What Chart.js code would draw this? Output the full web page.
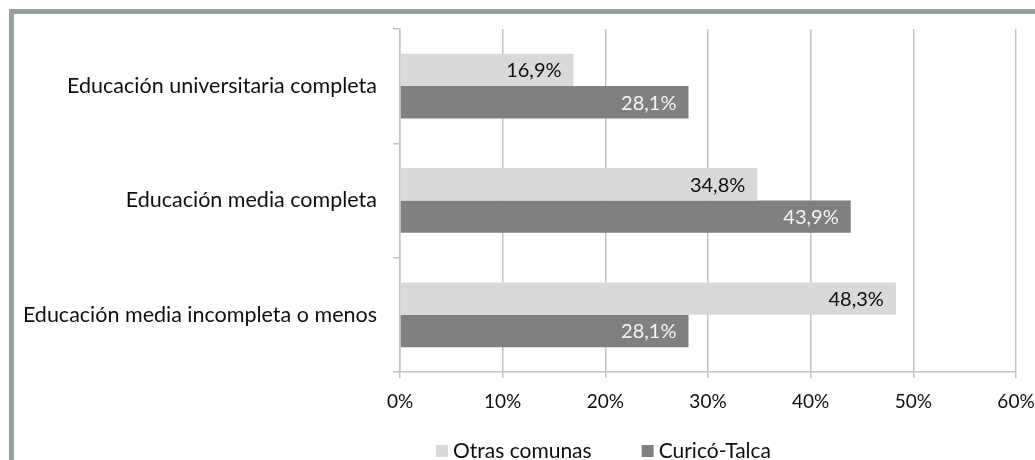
<!DOCTYPE html>
<html>
<head>
<meta charset="utf-8">
<script src="https://cdn.jsdelivr.net/npm/chart.js@4.4.1/dist/chart.umd.min.js"></script>
<style>
  html, body { margin: 0; padding: 0; background: #ffffff; }
  #wrap { position: relative; width: 1035px; height: 460px; overflow: hidden; }
  #frame { position: absolute; left: 9px; top: 9px; right: -10px; bottom: -10px;
           border-top: 5px solid #979f9e; border-left: 5px solid #979f9e; }
  canvas { position: absolute; left: 0; top: 0; }
</style>
</head>
<body>
<div id="wrap">
  <canvas id="c" width="1035" height="460"></canvas>
  <div id="frame"></div>
</div>
<script>
const categories = [
  "Educación universitaria completa",
  "Educación media completa",
  "Educación media incompleta o menos"
];
const seriesNames = ["Otras comunas", "Curicó-Talca"];
const otrasComunas = [16.9, 34.8, 48.3];
const curicoTalca = [28.1, 43.9, 28.1];
const xTicks = [0, 10, 20, 30, 40, 50, 60];

const FONT = "Lato, 'Open Sans', sans-serif";
const lightColor = "#d9d9d9";
const darkColor = "#808080";
const gridColor = "#c3c3c3";
const textColor = "#0f0f0f";

const fmt = v => v.toFixed(1).replace(".", ",") + "%";

const valueLabels = {
  id: "valueLabels",
  afterDatasetsDraw(chart) {
    const ctx = chart.ctx;
    ctx.save();
    ctx.font = "20px " + FONT;
    ctx.textAlign = "right";
    ctx.textBaseline = "middle";
    chart.data.datasets.forEach((ds, di) => {
      const meta = chart.getDatasetMeta(di);
      meta.data.forEach((bar, i) => {
        ctx.fillStyle = di === 0 ? textColor : "#f4f4f4";
        ctx.fillText(fmt(ds.data[i]), bar.x - 12, bar.y + 1);
      });
    });
    ctx.restore();
  }
};

const customLegend = {
  id: "customLegend",
  afterDraw(chart) {
    const ctx = chart.ctx;
    ctx.save();
    ctx.font = "21px " + FONT;
    ctx.textBaseline = "middle";
    ctx.textAlign = "left";
    let x = 436;
    const y = 451;
    chart.data.datasets.forEach((ds, di) => {
      ctx.fillStyle = ds.backgroundColor;
      ctx.fillRect(x, y - 6, 12, 12);
      ctx.fillStyle = textColor;
      ctx.fillText(ds.label, x + 17, y);
      x += 17 + ctx.measureText(ds.label).width + 50;
    });
    ctx.restore();
  }
};

new Chart(document.getElementById("c"), {
  type: "bar",
  data: {
    labels: categories,
    datasets: [
      { label: seriesNames[0], data: otrasComunas, backgroundColor: lightColor },
      { label: seriesNames[1], data: curicoTalca, backgroundColor: darkColor }
    ]
  },
  options: {
    indexAxis: "y",
    responsive: false,
    animation: false,
    devicePixelRatio: 1,
    categoryPercentage: 0.567,
    barPercentage: 1.0,
    layout: { padding: { top: 28, right: 0, bottom: 0, left: 0 } },
    plugins: {
      legend: { display: false },
      tooltip: { enabled: false }
    },
    scales: {
      x: {
        min: 0, max: 60,
        afterBuildTicks(scale) { scale.ticks = xTicks.map(v => ({ value: v })); },
        afterFit(scale) { scale.height = 88; scale.paddingRight = 19; scale.paddingLeft = 0; },
        grid: { color: gridColor, lineWidth: 1.5, tickLength: 6, drawTicks: true },
        border: { display: true, color: gridColor, width: 1.5 },
        ticks: {
          color: textColor,
          font: { family: FONT, size: 19 },
          padding: 12,
          callback: v => v + "%"
        }
      },
      y: {
        afterFit(scale) { scale.width = 400; },
        grid: { drawOnChartArea: false, drawTicks: true, tickLength: 7, color: gridColor, lineWidth: 1.5, offset: true },
        border: { display: true, color: gridColor, width: 1.5 },
        ticks: {
          color: textColor,
          font: { family: FONT, size: 21.5 },
          padding: 16
        }
      }
    }
  },
  plugins: [valueLabels, customLegend]
});
</script>
</body>
</html>
